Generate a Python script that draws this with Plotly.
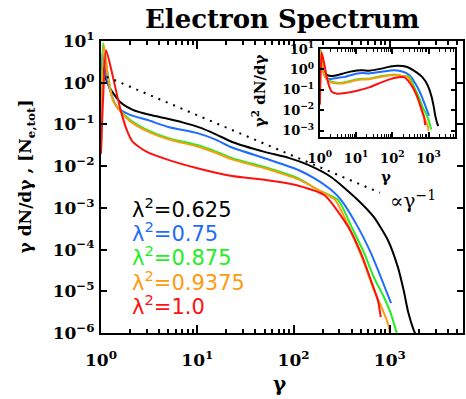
import plotly.graph_objects as go

# ---- data: gamma and gamma*dN/dgamma for each lambda^2 run ----
g_0625 = [1.0, 1.03, 1.1, 1.24, 1.57, 2.14, 3.2, 4.8, 7.0, 10.5, 15.6, 23, 50, 89, 142, 245, 465, 683, 953, 1212, 1390, 1560, 1770, 1850]
v_0625 = [0.02, 2.6, 1.4, 0.74, 0.35, 0.224, 0.17, 0.138, 0.112, 0.085, 0.058, 0.038, 0.022, 0.0158, 0.0107, 0.0055, 0.00155, 6.0e-4, 1.7e-4, 3.8e-5, 1.07e-5, 3.0e-6, 1.17e-6, 9.3e-7]

g_075 = [1.0, 1.03, 1.1, 1.24, 1.46, 2.0, 3.0, 5.0, 10, 15.3, 23, 50, 112, 165, 245, 311, 465, 635, 805, 1030]
v_075 = [0.02, 5.0, 2.0, 0.66, 0.26, 0.17, 0.129, 0.087, 0.062, 0.044, 0.028, 0.0155, 0.0081, 0.0051, 0.0027, 0.00155, 3.5e-4, 8.3e-5, 2.2e-5, 5.2e-6]

g_0875 = [1.0, 1.05, 1.18, 1.33, 1.57, 2.0, 3.0, 5.0, 10, 15, 23, 50, 112, 180, 290, 400, 540, 680, 870, 1020, 1180]
v_0875 = [0.02, 8.9, 1.5, 0.39, 0.224, 0.129, 0.074, 0.047, 0.032, 0.0232, 0.0155, 0.0095, 0.0051, 0.0027, 0.00155, 3.5e-4, 8.3e-5, 2.2e-5, 7.2e-6, 3.0e-6, 1.0e-6]

g_09375 = [1.0, 1.07, 1.18, 1.33, 1.57, 2.0, 3.0, 5.0, 10, 15, 23, 50, 112, 180, 270, 400, 540, 683, 845, 953, 1000]
v_09375 = [0.02, 7.9, 1.4, 0.38, 0.21, 0.12, 0.069, 0.044, 0.0295, 0.0215, 0.0145, 0.0089, 0.0048, 0.0027, 0.00155, 2.5e-4, 4.8e-5, 1.07e-5, 3.5e-6, 1.74e-6, 1.0e-6]

g_10 = [1.0, 1.05, 1.13, 1.33, 1.57, 1.85, 2.14, 3.0, 5.0, 10, 23, 50, 112, 210, 370, 500, 635, 750, 805]
v_10 = [0.02, 0.39, 6.0, 1.38, 0.26, 0.074, 0.038, 0.0219, 0.0141, 0.0089, 0.0058, 0.0047, 0.0034, 0.002, 3.5e-4, 8.3e-5, 1.86e-5, 6.2e-6, 2.4e-6]

# gamma^-1 reference line end points
g_ref = [1.15, 790]
v_ref = [1.38, 0.0023]

labels = ["λ<sup>2</sup>=0.625", "λ<sup>2</sup>=0.75", "λ<sup>2</sup>=0.875",
          "λ<sup>2</sup>=0.9375", "λ<sup>2</sup>=1.0"]
colors = ["#000000", "#1f6bff", "#22ee22", "#ff9a10", "#ff1010"]

main_ticks = [1e-6, 1e-5, 1e-4, 1e-3, 1e-2, 1e-1, 1e0, 1e1]
main_ticktext = ["10<sup>−6</sup>", "10<sup>−5</sup>", "10<sup>−4</sup>", "10<sup>−3</sup>",
                 "10<sup>−2</sup>", "10<sup>−1</sup>", "10<sup>0</sup>", "10<sup>1</sup>"]
x_ticks = [1, 10, 100, 1000]
x_ticktext = ["10<sup>0</sup>", "10<sup>1</sup>", "10<sup>2</sup>", "10<sup>3</sup>"]
inset_yticks = [1e-3, 1e-2, 1e-1, 1e0, 1e1]
inset_yticktext = ["10<sup>−3</sup>", "10<sup>−2</sup>", "10<sup>−1</sup>", "10<sup>0</sup>", "10<sup>1</sup>"]

series = [(g_0625, v_0625), (g_075, v_075), (g_0875, v_0875), (g_09375, v_09375), (g_10, v_10)]

minor_x = [m * 10 ** d for d in range(0, 4) for m in range(2, 10)]

SERIF = "DejaVu Serif"
W, H = 466, 399
L, R, T, B = 101, 1, 41, 66
PW, PH = W - L - R, H - T - B


def px(x):
    return (x - L) / PW


def py(y):
    return (H - B - y) / PH


fig = go.Figure()

curve_line = dict(width=2, shape="spline", smoothing=0.6)

# main panel curves (red drawn last, on top)
for (g, v), c in zip(series, colors):
    fig.add_trace(go.Scatter(x=g, y=v, mode="lines", line=dict(color=c, **curve_line),
                             showlegend=False, xaxis="x", yaxis="y"))

fig.add_trace(go.Scatter(x=g_ref, y=v_ref, mode="lines",
                         line=dict(color="black", width=2, dash="2px,6px"),
                         showlegend=False, xaxis="x", yaxis="y"))

# inset: gamma^2 dN/dgamma = gamma * (gamma dN/dgamma)
for (g, v), c in zip(series, colors):
    fig.add_trace(go.Scatter(x=g, y=[a * b for a, b in zip(g, v)], mode="lines",
                             line=dict(color=c, **curve_line),
                             showlegend=False, xaxis="x2", yaxis="y2"))

axis_common = dict(showline=True, linecolor="black", linewidth=2, mirror="allticks",
                   ticks="inside", tickcolor="black", tickwidth=1.5, showgrid=False,
                   zeroline=False, type="log")

fig.update_layout(
    width=W, height=H,
    margin=dict(l=L, r=R, t=T, b=B),
    paper_bgcolor="white", plot_bgcolor="white",
    xaxis=dict(**axis_common, domain=[0, 1], range=[0, 3.76], anchor="y",
               tickmode="array", tickvals=x_ticks, ticktext=x_ticktext, ticklen=8,
               ticklabelstandoff=11,
               tickfont=dict(family=SERIF, size=17, color="black", weight="bold"),
               minor=dict(tickmode="array", tickvals=minor_x, ticks="inside",
                          ticklen=4, tickcolor="black", tickwidth=1.5)),
    yaxis=dict(**axis_common, domain=[0, 1], range=[-6, 1], anchor="x",
               tickmode="array", tickvals=main_ticks, ticktext=main_ticktext, ticklen=6,
               ticklabelstandoff=1,
               tickfont=dict(family=SERIF, size=17, color="black", weight="bold")),
    xaxis2=dict(**axis_common, domain=[px(321), px(457)], range=[0, 3.73], anchor="y2",
                tickmode="array", tickvals=x_ticks, ticktext=x_ticktext, ticklen=5,
                ticklabelstandoff=8,
                tickfont=dict(family=SERIF, size=13, color="black", weight="bold"),
                minor=dict(tickmode="array", tickvals=minor_x, ticks="inside",
                           ticklen=3, tickcolor="black", tickwidth=1)),
    yaxis2=dict(**axis_common, domain=[py(137), py(49)], range=[-3.3, 1.0], anchor="x2",
                tickmode="array", tickvals=inset_yticks, ticktext=inset_yticktext, ticklen=4,
                ticklabelstandoff=1,
                tickfont=dict(family=SERIF, size=13, color="black", weight="bold")),
)

ann = []
ann.append(dict(text="<b>Electron Spectrum</b>", x=px(284), y=py(19),
                font=dict(family=SERIF, size=26, color="black")))
ann.append(dict(text="<b>γ</b>", x=px(281), y=py(384),
                font=dict(family=SERIF, size=20, color="black")))
ann.append(dict(text="<b>γ dN/dγ , [N<sub>e,tot</sub>]</b>", x=px(26), y=py(176), textangle=-90,
                font=dict(family=SERIF, size=17, color="black")))
ann.append(dict(text="<b>γ</b>", x=px(388), y=py(177),
                font=dict(family=SERIF, size=15, color="black")))
ann.append(dict(text="<b>γ<sup>2</sup> dN/dγ</b>", x=px(260), y=py(91), textangle=-90,
                font=dict(family=SERIF, size=15, color="black")))
ann.append(dict(text="∝γ<sup>−1</sup>", x=px(390), y=py(200), xanchor="left",
                font=dict(family=SERIF, size=20, color="black")))

for lab, c, yc in zip(labels, colors, [208, 232, 256, 281, 305]):
    ann.append(dict(text=lab, x=px(130), y=py(yc), xanchor="left",
                    font=dict(family="DejaVu Sans", size=21, color=c)))

for a in ann:
    a.setdefault("xanchor", "center")
    a.update(xref="paper", yref="paper", yanchor="middle", showarrow=False)
fig.update_layout(annotations=ann)

fig.write_html("out.html")
